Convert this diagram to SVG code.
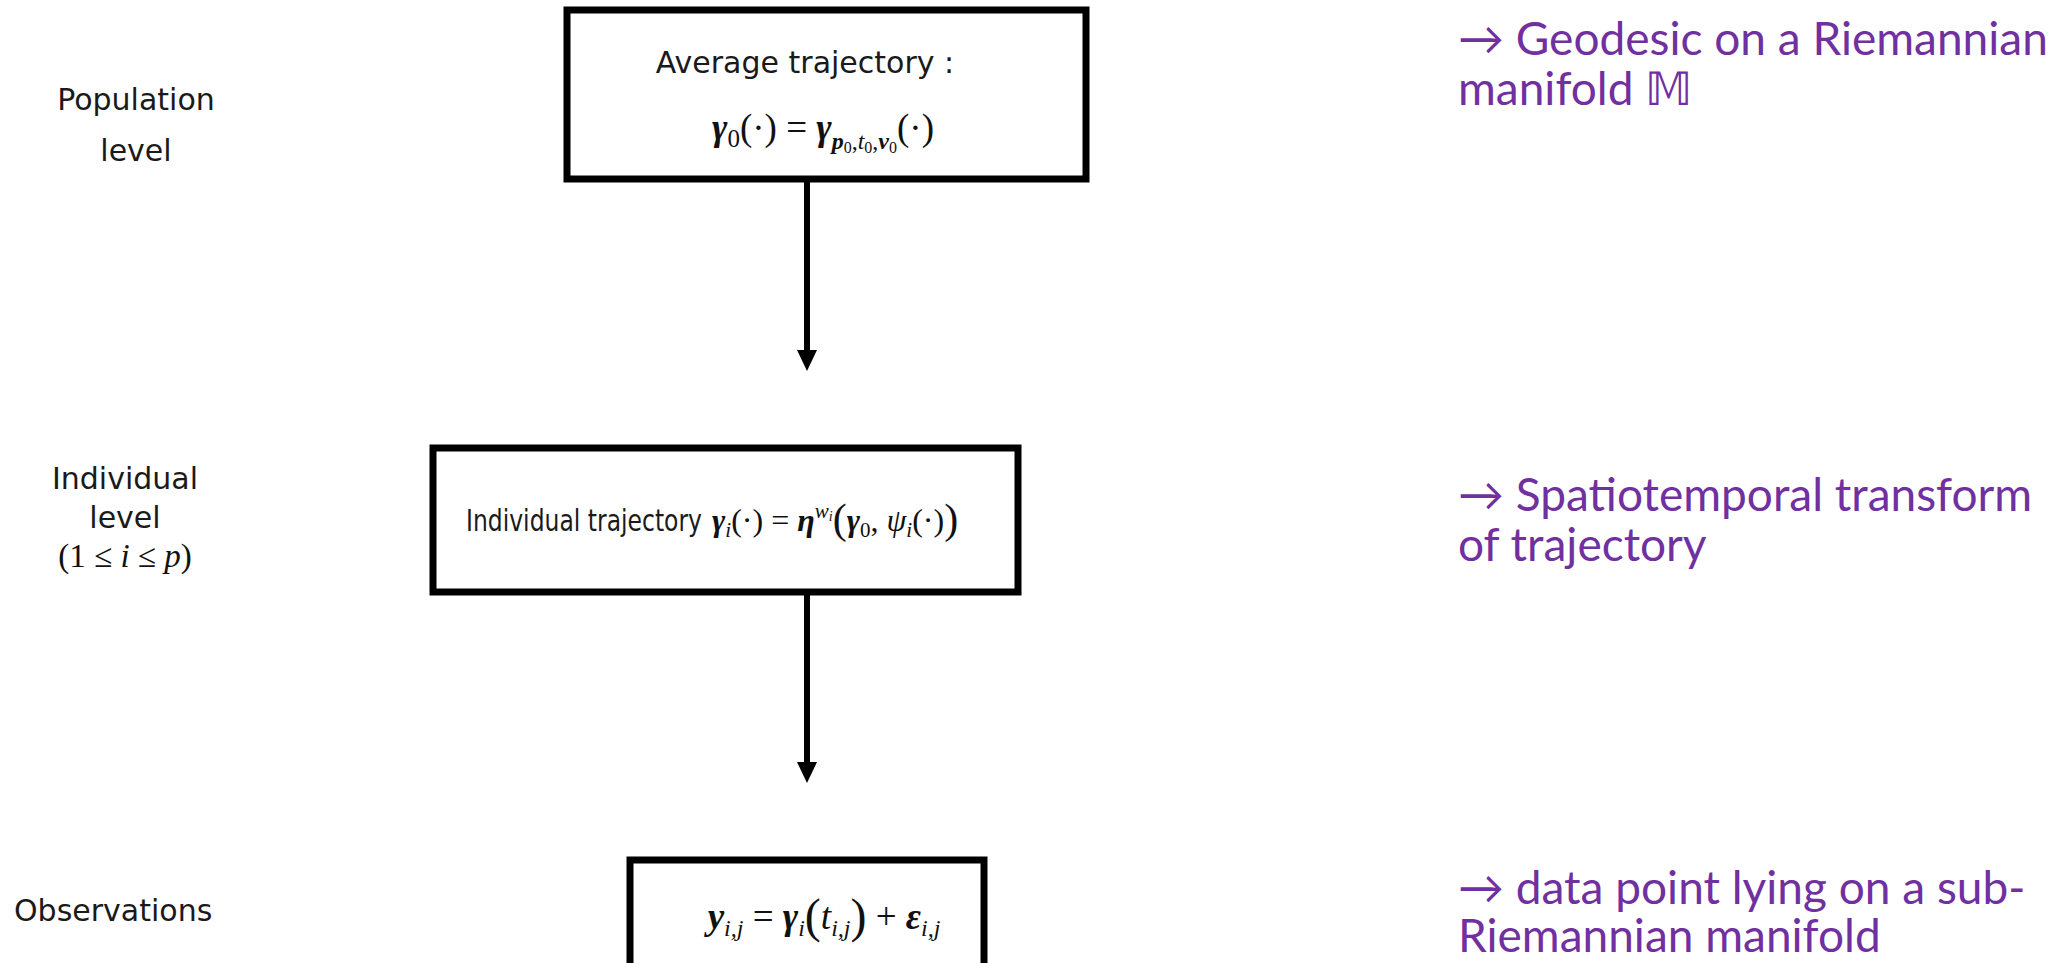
<svg xmlns="http://www.w3.org/2000/svg" width="2072" height="963" viewBox="0 0 2072 963">
<style>
.lbl{font-family:"DejaVu Sans","Liberation Sans",sans-serif;font-size:30px;fill:#1a1a1a}
.math{font-family:"Liberation Serif","DejaVu Serif",serif;fill:#111}
.m37{font-size:37px}
.m33{font-size:33px}
.m32{font-size:32px}
.bi{font-weight:bold;font-style:italic}
.i{font-style:italic}
.note{font-family:Lato,"Noto Sans","Liberation Sans",sans-serif;font-size:46px;fill:#7030A0}
.box{fill:#fff;stroke:#000;stroke-width:7}
.conn{stroke:#000;stroke-width:6;fill:none}
.head{fill:#000}
</style>
<rect width="2072" height="963" fill="#fff"/>

<g id="connectors">
<line class="conn" x1="807" y1="180" x2="807" y2="352"/>
<path class="head" d="M797,350 L817,350 L807,371 Z"/>
<line class="conn" x1="807" y1="594" x2="807" y2="764"/>
<path class="head" d="M797,762 L817,762 L807,783 Z"/>
</g>

<g id="label-population">
<text class="lbl" x="136" y="110" text-anchor="middle">Population</text>
<text class="lbl" x="136" y="161" text-anchor="middle">level</text>
</g>
<g id="label-individual">
<text class="lbl" x="125" y="489" text-anchor="middle">Individual</text>
<text class="lbl" x="125" y="528" text-anchor="middle">level</text>
<text class="math m33" x="125" y="567" text-anchor="middle"><tspan>(1 ≤ </tspan><tspan class="i">i</tspan><tspan> ≤ </tspan><tspan class="i">p</tspan><tspan>)</tspan></text>
</g>
<g id="label-observations">
<text class="lbl" x="14" y="921">Observations</text>
</g>

<g id="node-average">
<rect class="box" x="567" y="10" width="519" height="169"/>
<text class="lbl" x="805" y="73" text-anchor="middle">Average trajectory :</text>
<text class="math m37" x="823" y="140" text-anchor="middle"><tspan class="bi">γ</tspan><tspan font-size="25" dy="7">0</tspan><tspan dy="-7">(·) = </tspan><tspan class="bi">γ</tspan><tspan class="bi" font-size="24" dy="9">p</tspan><tspan font-size="16" dy="4">0</tspan><tspan font-size="24" dy="-4">,</tspan><tspan class="i" font-size="24">t</tspan><tspan font-size="16" dy="4">0</tspan><tspan font-size="24" dy="-4">,</tspan><tspan class="bi" font-size="24">v</tspan><tspan font-size="16" dy="4">0</tspan><tspan dy="-13">(·)</tspan></text>
</g>

<g id="node-individual">
<rect class="box" x="433" y="448" width="585" height="144"/>
<text class="lbl" x="466" y="531" font-size="29" textLength="236" lengthAdjust="spacingAndGlyphs">Individual trajectory</text>
<text class="math m32" x="712" y="531"><tspan class="bi">γ</tspan><tspan class="i" font-size="21" dy="6">i</tspan><tspan dy="-6">(·) = </tspan><tspan class="bi">η</tspan><tspan class="i" font-size="21" dy="-13">w</tspan><tspan class="i" font-size="14" dy="3">i</tspan><tspan font-size="42" dy="12">(</tspan><tspan class="bi" dy="-2">γ</tspan><tspan font-size="21" dy="6">0</tspan><tspan dy="-6">, </tspan><tspan class="i">ψ</tspan><tspan class="i" font-size="21" dy="6">i</tspan><tspan dy="-6">(·)</tspan><tspan font-size="42" dy="2">)</tspan></text>
</g>

<g id="node-observation">
<rect class="box" x="630" y="860" width="354" height="120"/>
<text class="math m37" x="824" y="929" text-anchor="middle"><tspan class="bi">y</tspan><tspan class="i" font-size="24" dy="7">i,j</tspan><tspan dy="-7"> = </tspan><tspan class="bi">γ</tspan><tspan class="i" font-size="24" dy="7">i</tspan><tspan font-size="48" dy="-4">(</tspan><tspan class="i" dy="-3">t</tspan><tspan class="i" font-size="24" dy="7">i,j</tspan><tspan font-size="48" dy="-4">)</tspan><tspan dy="-3"> + </tspan><tspan class="bi">ε</tspan><tspan class="i" font-size="24" dy="7">i,j</tspan></text>
</g>

<g id="note-geodesic">
<text class="note" x="1458" y="55">→ Geodesic on a Riemannian</text>
<text class="note" x="1458" y="105">manifold 𝕄</text>
</g>
<g id="note-spatiotemporal">
<text class="note" x="1458" y="511">→ Spatiotemporal transform</text>
<text class="note" x="1458" y="561">of trajectory</text>
</g>
<g id="note-data">
<text class="note" x="1458" y="904">→ data point lying on a sub-</text>
<text class="note" x="1458" y="952">Riemannian manifold</text>
</g>
</svg>
